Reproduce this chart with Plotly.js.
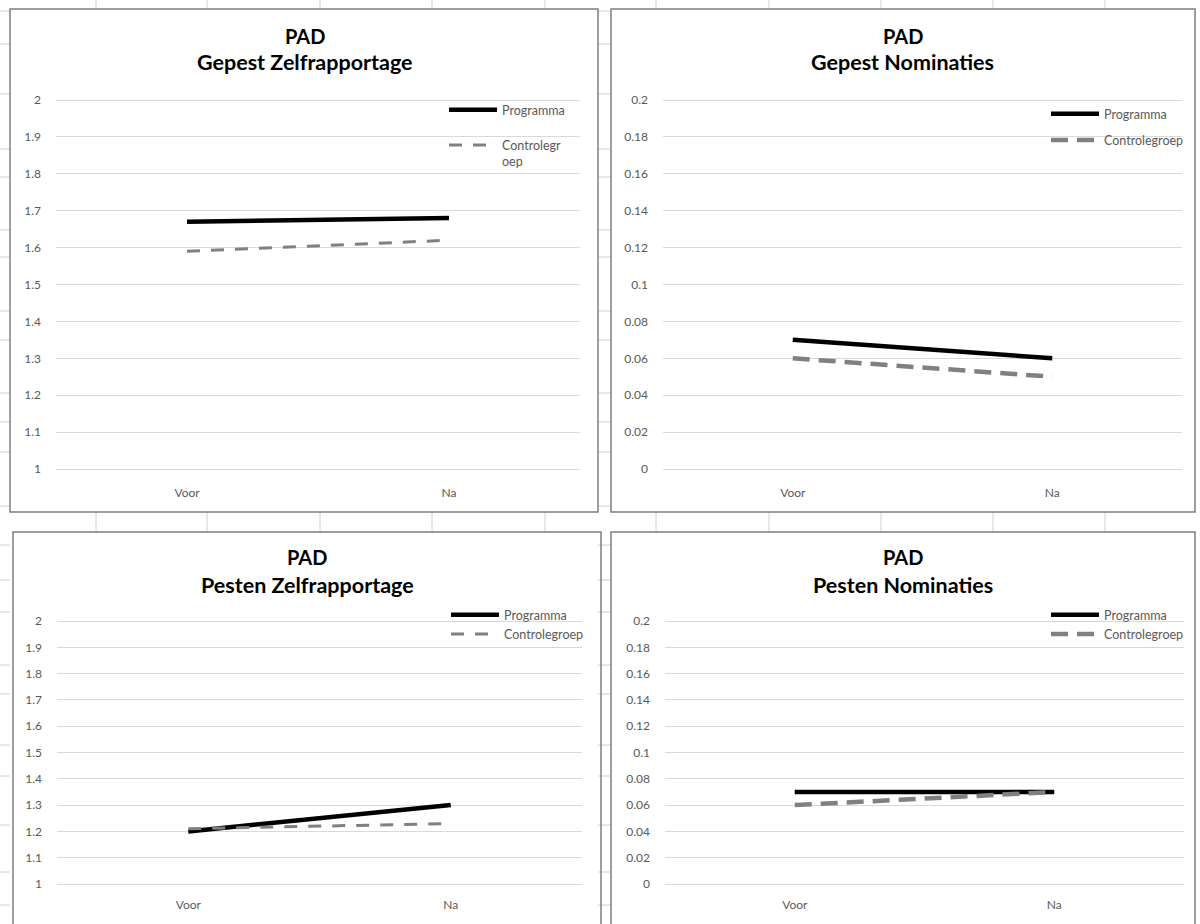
<!DOCTYPE html>
<html><head><meta charset="utf-8">
<script src="https://cdn.plot.ly/plotly-3.0.1.min.js"></script>
<style>html,body{margin:0;padding:0;background:#fff}#chart{width:1200px;height:924px}</style>
</head><body><div id="chart"></div>
<script>
// ---------- data ----------
const categories = ['Voor', 'Na'];
const programmaName = 'Programma';
const controleNames = ['Controlegr<br>oep', 'Controlegroep', 'Controlegroep', 'Controlegroep'];
const panelTitle = 'PAD';
const panelSubtitles = ['Gepest Zelfrapportage', 'Gepest Nominaties', 'Pesten Zelfrapportage', 'Pesten Nominaties'];

const gepestZelfProgramma = [1.67, 1.68];
const gepestZelfControle  = [1.59, 1.62];
const gepestNomProgramma  = [0.07, 0.06];
const gepestNomControle   = [0.06, 0.05];
const pestenZelfProgramma = [1.20, 1.30];
const pestenZelfControle  = [1.21, 1.23];
const pestenNomProgramma  = [0.07, 0.07];
const pestenNomControle   = [0.06, 0.07];

const zelfTickVals = [1, 1.1, 1.2, 1.3, 1.4, 1.5, 1.6, 1.7, 1.8, 1.9, 2];
const zelfTickText = ['1', '1.1', '1.2', '1.3', '1.4', '1.5', '1.6', '1.7', '1.8', '1.9', '2'];
const nomTickVals  = [0, 0.02, 0.04, 0.06, 0.08, 0.1, 0.12, 0.14, 0.16, 0.18, 0.2];
const nomTickText  = ['0', '0.02', '0.04', '0.06', '0.08', '0.1', '0.12', '0.14', '0.16', '0.18', '0.2'];

// ---------- layout geometry (pixels) ----------
const W = 1200, H = 924;
const FONT = 'Lato, "Open Sans", "Liberation Sans", sans-serif';
const GREY_TEXT = '#595959';

const panels = [
  {prog: gepestZelfProgramma, ctrl: gepestZelfControle, tv: zelfTickVals, tt: zelfTickText, ymin: 1, ymax: 2,
   box: [10, 9, 598, 512], plotX: [56, 580], top: 100, bottom: 469, titleY: [36, 62], center: 305,
   leg: [444, 95], gap: 16, dashW: 3, dash: '13px,11px'},
  {prog: gepestNomProgramma, ctrl: gepestNomControle, tv: nomTickVals, tt: nomTickText, ymin: 0, ymax: 0.2,
   box: [611, 9, 1195, 512], plotX: [663, 1182], top: 100, bottom: 469, titleY: [36, 62], center: 903,
   leg: [1046, 99], gap: 7, dashW: 4.5, dash: '17px,9px'},
  {prog: pestenZelfProgramma, ctrl: pestenZelfControle, tv: zelfTickVals, tt: zelfTickText, ymin: 1, ymax: 2,
   box: [13, 532, 601, 940], plotX: [57, 582], top: 621, bottom: 884, titleY: [557, 585], center: 307,
   leg: [446, 600], gap: 0, dashW: 3, dash: '13px,11px'},
  {prog: pestenNomProgramma, ctrl: pestenNomControle, tv: nomTickVals, tt: nomTickText, ymin: 0, ymax: 0.2,
   box: [611, 532, 1195, 940], plotX: [665, 1184], top: 621, bottom: 884, titleY: [557, 585], center: 903,
   leg: [1046, 600], gap: 0, dashW: 4.5, dash: '17px,9px'}
];

const traces = [];
const layout = {
  width: W, height: H, margin: {l: 0, r: 0, t: 0, b: 0},
  paper_bgcolor: '#ffffff', plot_bgcolor: 'rgba(0,0,0,0)',
  font: {family: FONT, color: GREY_TEXT, size: 12},
  shapes: [], annotations: []
};

panels.forEach((p, i) => {
  const n = i + 1;
  const sfx = n === 1 ? '' : String(n);
  const xa = 'x' + sfx, ya = 'y' + sfx;
  const legendId = n === 1 ? 'legend' : 'legend' + n;

  traces.push({
    type: 'scatter', mode: 'lines', x: categories, y: p.prog, name: programmaName,
    xaxis: xa, yaxis: ya, legend: legendId, legendgroup: 'prog' + n,
    line: {color: '#000000', width: 4.5}, hoverinfo: 'skip'
  });
  traces.push({
    type: 'scatter', mode: 'lines', x: categories, y: p.ctrl, name: controleNames[i],
    xaxis: xa, yaxis: ya, legend: legendId, legendgroup: 'ctrl' + n,
    line: {color: '#808080', width: p.dashW, dash: p.dash}, hoverinfo: 'skip'
  });

  const span = p.ymax - p.ymin;
  const pad = 0.03 * span;
  const pxPer = (p.bottom - p.top) / span;
  const domTop = p.top - pad * pxPer;
  const domBot = p.bottom + pad * pxPer;

  layout['xaxis' + sfx] = {
    domain: [p.plotX[0] / W, p.plotX[1] / W], anchor: ya,
    type: 'category', categoryorder: 'array', categoryarray: categories,
    range: [-0.5, categories.length - 0.5],
    showgrid: false, zeroline: false, showline: false, ticks: '',
    ticklabelstandoff: 4,
    tickfont: {family: FONT, size: 12, color: GREY_TEXT}, fixedrange: true
  };
  layout['yaxis' + sfx] = {
    domain: [1 - domBot / H, 1 - domTop / H], anchor: xa,
    range: [p.ymin - pad, p.ymax + pad],
    tickmode: 'array', tickvals: p.tv, ticktext: p.tt,
    showgrid: true, gridcolor: '#d9d9d9', gridwidth: 1,
    zeroline: false, showline: false, ticks: '', ticklabelstandoff: 14,
    tickfont: {family: FONT, size: 12, color: GREY_TEXT}, fixedrange: true
  };
  layout[legendId] = {
    x: p.leg[0] / W, y: 1 - p.leg[1] / H, xanchor: 'left', yanchor: 'top',
    bgcolor: 'rgba(0,0,0,0)', borderwidth: 0, valign: 'top',
    font: {family: FONT, size: 12.5, color: GREY_TEXT}, itemwidth: 48,
    traceorder: 'grouped', tracegroupgap: p.gap
  };

  layout.shapes.push({
    type: 'rect', xref: 'paper', yref: 'paper', layer: 'above',
    x0: p.box[0] / W, x1: p.box[2] / W, y0: 1 - p.box[3] / H, y1: 1 - p.box[1] / H,
    line: {color: '#7f7f7f', width: 1.5}, fillcolor: 'rgba(0,0,0,0)'
  });

  layout.annotations.push({
    xref: 'paper', yref: 'paper', x: p.center / W, y: 1 - p.titleY[0] / H,
    xanchor: 'center', yanchor: 'middle', showarrow: false,
    text: '<b>' + panelTitle + '</b>', font: {family: FONT, size: 20, color: '#000000'}
  });
  layout.annotations.push({
    xref: 'paper', yref: 'paper', x: p.center / W, y: 1 - p.titleY[1] / H,
    xanchor: 'center', yanchor: 'middle', showarrow: false,
    text: '<b>' + panelSubtitles[i] + '</b>', font: {family: FONT, size: 21.5, color: '#000000'}
  });
});

// faint spreadsheet cell lines visible around the chart boxes
const colLines = [96, 207, 320, 432, 545, 656, 769, 881, 993, 1105];
colLines.forEach(x => {
  [[0, 9], [512, 532]].forEach(seg => {
    layout.shapes.push({type: 'line', xref: 'paper', yref: 'paper', layer: 'below',
      x0: x / W, x1: x / W, y0: 1 - seg[1] / H, y1: 1 - seg[0] / H,
      line: {color: '#d0d0d0', width: 1}});
  });
});
const rowLines = [11, 44, 94, 149, 177, 230, 257, 311, 340, 393, 422, 452, 506, 545, 580, 612, 665, 694, 745, 776, 825, 872, 905];
rowLines.forEach(y => {
  [[0, 10], [598, 611]].forEach(seg => {
    layout.shapes.push({type: 'line', xref: 'paper', yref: 'paper', layer: 'below',
      x0: seg[0] / W, x1: seg[1] / W, y0: 1 - y / H, y1: 1 - y / H,
      line: {color: '#d0d0d0', width: 1}});
  });
});

Plotly.newPlot('chart', traces, layout, {displayModeBar: false, staticPlot: true});
</script>
</body></html>
